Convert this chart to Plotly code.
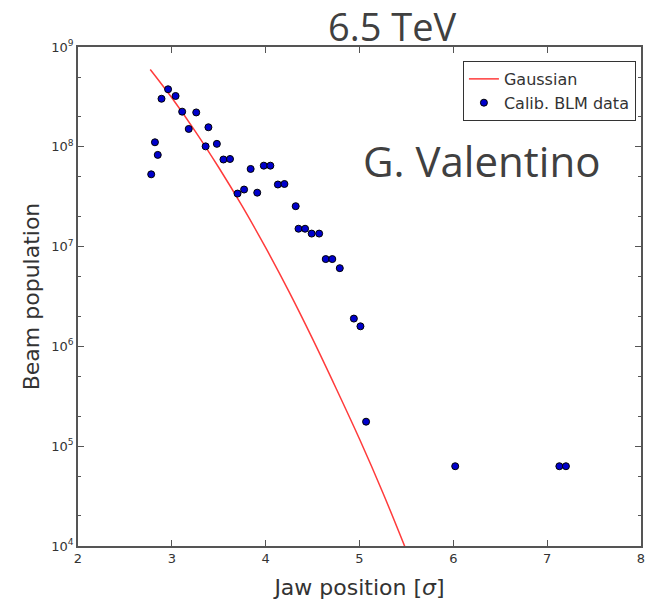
import plotly.graph_objects as go

# Calibrated BLM data (jaw position in sigma, beam population)
jaw_pos = [2.78, 2.82, 2.85, 2.89, 2.96, 3.04, 3.11, 3.18, 3.26, 3.36, 3.39, 3.48,
           3.55, 3.62, 3.70, 3.77, 3.84, 3.91, 3.98, 4.05, 4.13, 4.20, 4.32, 4.35,
           4.42, 4.49, 4.57, 4.64, 4.71, 4.79, 4.94, 5.01, 5.07, 6.02, 7.13, 7.20]
population = [5.3e7, 1.11e8, 8.3e7, 3.03e8, 3.77e8, 3.23e8, 2.25e8, 1.51e8, 2.21e8, 1.01e8,
              1.57e8, 1.07e8, 7.46e7, 7.55e7, 3.40e7, 3.73e7, 6.0e7, 3.47e7, 6.47e7, 6.47e7,
              4.19e7, 4.24e7, 2.54e7, 1.51e7, 1.51e7, 1.35e7, 1.35e7, 7.5e6, 7.5e6, 6.08e6,
              1.90e6, 1.59e6, 1.76e5, 6.3e4, 6.3e4, 6.3e4]

# Gaussian curve
gauss_x = [2.77, 3.0, 3.25, 3.5, 3.75, 4.0, 4.25, 4.5, 4.75, 5.0, 5.25, 5.5]
gauss_y = [5.96e8, 3.1e8, 1.43e8, 6.2e7, 2.54e7, 9.75e6, 3.52e6, 1.19e6, 3.81e5, 1.18e5,
           3.4e4, 9.0e3]

x_ticks = [2, 3, 4, 5, 6, 7, 8]
y_tickvals = [1e4, 1e5, 1e6, 1e7, 1e8, 1e9]
y_ticktext = ["10<sup>4</sup>", "10<sup>5</sup>", "10<sup>6</sup>", "10<sup>7</sup>",
              "10<sup>8</sup>", "10<sup>9</sup>"]

fig = go.Figure()
fig.add_trace(go.Scatter(
    x=gauss_x, y=gauss_y, mode="lines", name="Gaussian",
    line=dict(color="#ff3b3b", width=1.5, shape="spline"),
))
fig.add_trace(go.Scatter(
    x=jaw_pos, y=population, mode="markers", name="Calib. BLM data",
    marker=dict(color="#0000cc", size=7, line=dict(color="black", width=1)),
))

axis_common = dict(
    showgrid=False, zeroline=False, showline=True, linecolor="#555", linewidth=1.5,
    mirror="allticks", ticks="inside", ticklen=6, tickcolor="#555", tickwidth=1,
    tickfont=dict(family="DejaVu Sans", size=13, color="#333"),
)

fig.update_layout(
    width=648, height=601,
    margin=dict(l=78, r=3, t=47, b=55),
    paper_bgcolor="white", plot_bgcolor="white",
    showlegend=True,
    legend=dict(
        x=0.991, y=0.972, xanchor="right", yanchor="top",
        bordercolor="#333", borderwidth=1, bgcolor="white",
        font=dict(family="DejaVu Sans", size=16, color="#333"),
        tracegroupgap=0, itemwidth=30,
    ),
    xaxis=dict(
        range=[2, 8], tickvals=x_ticks,
        title=dict(text="Jaw position [<i>σ</i>]", standoff=14,
                   font=dict(family="DejaVu Sans", size=22, color="#333")),
        **axis_common,
    ),
    yaxis=dict(
        type="log", range=[4, 9], tickvals=y_tickvals, ticktext=y_ticktext,
        minor=dict(ticks="inside", ticklen=3, tickcolor="#555", showgrid=False),
        title=dict(text="Beam population", standoff=6,
                   font=dict(family="DejaVu Sans", size=22, color="#333")),
        **axis_common,
    ),
    annotations=[
        dict(text="6.5 TeV", x=0.558, y=1.0, xref="paper", yref="paper",
             xanchor="center", yanchor="bottom", yshift=-7, showarrow=False,
             font=dict(family="Open Sans", size=38, color="#404040")),
        dict(text="G. Valentino", x=0.716, y=0.7735, xref="paper", yref="paper",
             xanchor="center", yanchor="middle", showarrow=False,
             font=dict(family="Open Sans", size=42, color="#404040")),
    ],
)

fig.write_html("out.html")
